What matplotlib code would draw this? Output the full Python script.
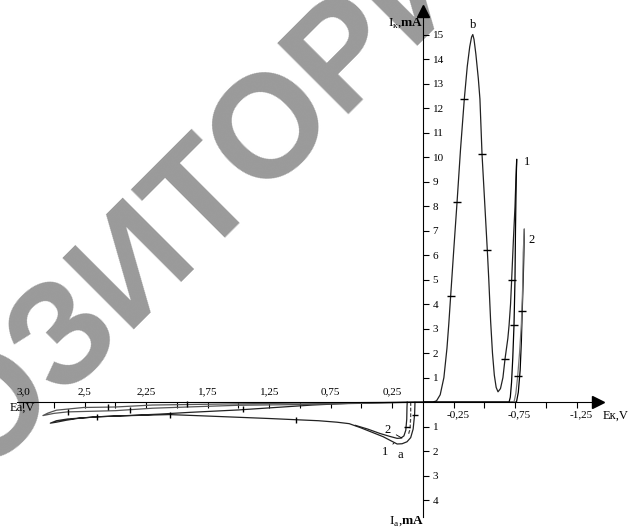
import numpy as np
import matplotlib
matplotlib.use('Agg')
import matplotlib.pyplot as plt
from matplotlib.ticker import FixedLocator, FixedFormatter

plt.rcParams['font.family'] = ['Liberation Serif', 'DejaVu Serif']
plt.rcParams['mathtext.fontset'] = 'custom'
plt.rcParams['mathtext.rm'] = 'Liberation Serif'
plt.rcParams['mathtext.bf'] = 'Liberation Serif:bold'

# --- cathodic branch (E < 0, I > 0) ---
cath_b_E = [0.0, -0.08, -0.11, -0.14, -0.17, -0.195, -0.21, -0.225, -0.25, -0.277, -0.305, -0.336,
            -0.36, -0.38, -0.395, -0.405, -0.415, -0.43, -0.45, -0.463, -0.48, -0.50, -0.523, -0.535,
            -0.55, -0.565, -0.58, -0.595, -0.61, -0.63, -0.65, -0.667, -0.69, -0.70, -0.712, -0.721,
            -0.735, -0.748, -0.755, -0.762]
cath_b_I = [0, 0, 0.05, 0.3, 1.0, 2.2, 3.2, 4.33, 6.2, 8.16, 10.3, 12.37,
            13.7, 14.5, 14.9, 15.0, 14.8, 14.2, 13.2, 12.37, 10.12, 8.3, 6.2, 5.0,
            3.3, 2.0, 1.1, 0.6, 0.42, 0.55, 1.0, 1.76, 2.6, 3.14, 4.0, 5.0,
            6.6, 7.97, 9.0, 9.9]
cath_1r_E = [-0.762, -0.758, -0.752, -0.748, -0.74, -0.73, -0.72, -0.71, -0.70, -0.60, 0.0]
cath_1r_I = [9.9, 9.06, 7.0, 5.0, 3.14, 1.8, 0.8, 0.2, 0.0, 0.0, 0.0]
cath_2f_E = [0.0, -0.76, -0.775, -0.79, -0.80, -0.807, -0.815, -0.82, -0.824]
cath_2f_I = [0, 0, 0.4, 1.3, 2.5, 3.73, 5.0, 6.0, 7.05]
cath_2r_E = [-0.824, -0.815, -0.81, -0.80, -0.785, -0.77, -0.755, -0.74]
cath_2r_I = [7.05, 6.1, 4.6, 3.2, 2.0, 1.06, 0.35, 0.0]

cath_mark_E = [-0.225, -0.277, -0.336, -0.48, -0.523, -0.667, -0.721, -0.74, -0.77, -0.807]
cath_mark_I = [4.33, 8.16, 12.37, 10.12, 6.2, 1.76, 5.0, 3.14, 1.06, 3.73]

# --- anodic branch (E > 0, I < 0) ---
an1_E = [0.0, 0.3, 0.6, 0.9, 1.2, 1.5, 1.9, 2.14, 2.4, 2.65, 2.89, 2.98, 3.03,
         2.98, 2.90, 2.80, 2.65, 2.45, 2.22, 2.06, 1.80, 1.50, 1.25, 1.03, 0.85, 0.70,
         0.60, 0.51, 0.42, 0.325, 0.26, 0.21, 0.17, 0.13, 0.10, 0.08, 0.068, 0.065]
an1_I = [0.0, -0.02, -0.05, -0.12, -0.22, -0.32, -0.42, -0.49, -0.55, -0.60, -0.69, -0.76, -0.86,
         -0.82, -0.74, -0.66, -0.60, -0.56, -0.53, -0.51, -0.56, -0.62, -0.67, -0.72, -0.76, -0.82,
         -0.88, -1.04, -1.22, -1.41, -1.58, -1.71, -1.70, -1.62, -1.45, -1.1, -0.5, 0.0]
an2_E = [0.0, 0.5, 1.0, 1.5, 2.2, 2.5, 2.76, 2.98, 3.05, 3.09,
         3.0, 2.89, 2.5, 2.2, 1.8, 1.5, 1.0, 0.6, 0.3, 0.0]
an2_I = [0.0, -0.02, -0.04, -0.07, -0.12, -0.2, -0.22, -0.33, -0.45, -0.55,
         -0.46, -0.40, -0.35, -0.25, -0.18, -0.13, -0.10, -0.06, -0.03, 0.0]
an2_dip_E = [0.55, 0.45, 0.35, 0.27, 0.21, 0.18, 0.155, 0.14, 0.132, 0.13, 0.128]
an2_dip_I = [-0.95, -1.1, -1.28, -1.40, -1.48, -1.47, -1.38, -1.15, -0.7, -0.2, 0.0]
an3_E = [0.10, 0.10, 0.105, 0.12]
an3_I = [0.0, -0.6, -1.1, -1.35]

an_hmark_E = [2.56, 1.92, 2.89, 2.38, 1.46, 2.65, 2.06, 1.03]
an_hmark_I = [-0.2, -0.09, -0.40, -0.31, -0.30, -0.60, -0.51, -0.72]
an_vmark_E = [0.068, 0.133]
an_vmark_I = [-0.53, -1.0]

# --- axes ticks ---
x_anod_ticks = [0.25, 0.75, 1.25, 1.75, 2.25, 2.75, 3.25]
x_anod_labels = ['0,25', '0,75', '1,25', '1,75', '2,25', '2,5', '3,0']
x_cath_ticks = [-0.25, -0.75, -1.25]
x_cath_labels = ['-0,25', '-0,75', '-1,25']
x_all_ticks = [-1.25, -1.0, -0.75, -0.5, -0.25, 0.25, 0.5, 0.75, 1.0, 1.25, 1.5, 1.75,
               2.0, 2.25, 2.5, 2.75, 3.0, 3.25]
y_ticks = [-4, -3, -2, -1, 1, 2, 3, 4, 5, 6, 7, 8, 9, 10, 11, 12, 13, 14, 15]
y_labels = ['4', '3', '2', '1', '1', '2', '3', '4', '5', '6', '7', '8', '9', '10',
            '11', '12', '13', '14', '15']


def main():
    fig = plt.figure(figsize=(6.29, 5.30), dpi=100)
    ax = fig.add_axes([0, 0, 1, 1])
    ax.set_xlim(3.439, -1.675)
    ax.set_ylim(-5.22, 16.41)
    ax.patch.set_visible(False)

    # watermark
    ax.text(0.259, 0.451, 'РЕПОЗИТОРИЙ', transform=ax.transAxes, rotation=45,
            rotation_mode='anchor', ha='center', va='baseline', fontsize=105,
            color='#9a9a9a', family='Liberation Sans', weight='bold', zorder=0)

    # axes through origin
    for s in ['left', 'top']:
        ax.spines[s].set_visible(False)
    ax.spines['bottom'].set_position(('data', 0))
    ax.spines['right'].set_position(('data', 0))
    ax.spines['bottom'].set_bounds(-1.40, 3.30)
    ax.spines['right'].set_bounds(-4.69, 15.9)
    ax.spines['bottom'].set_zorder(3)
    ax.spines['right'].set_zorder(3)
    ax.xaxis.set_major_locator(FixedLocator(x_all_ticks))
    ax.xaxis.set_major_formatter(FixedFormatter([''] * len(x_all_ticks)))
    ax.tick_params(axis='x', direction='out', length=4, width=0.8)
    ax.yaxis.set_ticks_position('right')
    ax.yaxis.set_major_locator(FixedLocator(y_ticks))
    ax.yaxis.set_major_formatter(FixedFormatter(y_labels))
    ax.tick_params(axis='y', direction='out', length=4, width=0.8, pad=3, labelsize=8)
    ax.plot([-1.42], [0], marker='>', color='black', markersize=8, clip_on=False, zorder=4)
    ax.plot([0], [15.95], marker='^', color='black', markersize=8, clip_on=False, zorder=4)

    for e, lab in zip(x_anod_ticks, x_anod_labels):
        ax.annotate(lab, (e, 0), xytext=(0, 4), textcoords='offset points',
                    ha='center', va='bottom', fontsize=8)
    for e, lab in zip(x_cath_ticks, x_cath_labels):
        ax.annotate(lab, (e, 0), xytext=(3, -6), textcoords='offset points',
                    ha='center', va='top', fontsize=8)

    ax.text(-1.465, -0.55, 'Eк,V', ha='left', va='center', fontsize=9)
    ax.text(3.36, -0.25, 'Ea,V', ha='left', va='center', fontsize=9)
    ax.text(-0.005, 15.45, r'I$_{\mathregular{к}}$,$\mathbf{mA}$', ha='right', va='center', fontsize=9.5)
    ax.text(-0.005, -4.85, r'I$_{\mathregular{a}}$,$\mathbf{mA}$', ha='right', va='center', fontsize=9.5)

    # curves
    lw = 0.9
    ax.plot(cath_b_E, cath_b_I, color='#222222', lw=lw)
    ax.plot(cath_1r_E, cath_1r_I, color='black', lw=lw)
    ax.plot(cath_2f_E, cath_2f_I, color='black', lw=lw)
    ax.plot(cath_2r_E, cath_2r_I, color='#777777', lw=lw)
    ax.plot(cath_mark_E, cath_mark_I, ls='none', marker='_', markersize=6, color='black', mew=1)

    ax.plot(an1_E, an1_I, color='#222222', lw=lw)
    ax.plot(an2_E, an2_I, color='#555555', lw=lw)
    ax.plot(an2_dip_E, an2_dip_I, color='#222222', lw=lw)
    ax.plot(an3_E, an3_I, color='#444444', lw=lw, ls=(0, (3, 1.5)))
    ax.plot(an_hmark_E, an_hmark_I, ls='none', marker='|', markersize=5, color='black', mew=1)
    ax.plot(an_vmark_E, an_vmark_I, ls='none', marker='_', markersize=5, color='black', mew=1)

    # curve labels
    ax.text(-0.407, 15.39, 'b', ha='center', va='center', fontsize=9)
    ax.text(-0.846, 9.80, '1', ha='center', va='center', fontsize=9)
    ax.text(-0.886, 6.61, '2', ha='center', va='center', fontsize=9)
    ax.annotate('2', xy=(0.171, -1.47), xytext=(0.285, -1.14), ha='center', va='center',
                fontsize=9, arrowprops=dict(arrowstyle='-', lw=0.6, shrinkA=2, shrinkB=0))
    ax.annotate('1', xy=(0.236, -1.67), xytext=(0.309, -2.04), ha='center', va='center',
                fontsize=9, arrowprops=dict(arrowstyle='-', lw=0.6, shrinkA=2, shrinkB=0))
    ax.text(0.187, -2.16, 'a', ha='center', va='center', fontsize=9)

    fig.savefig('out.png', dpi=100)
    plt.close(fig)


if __name__ == "__main__":
    main()
